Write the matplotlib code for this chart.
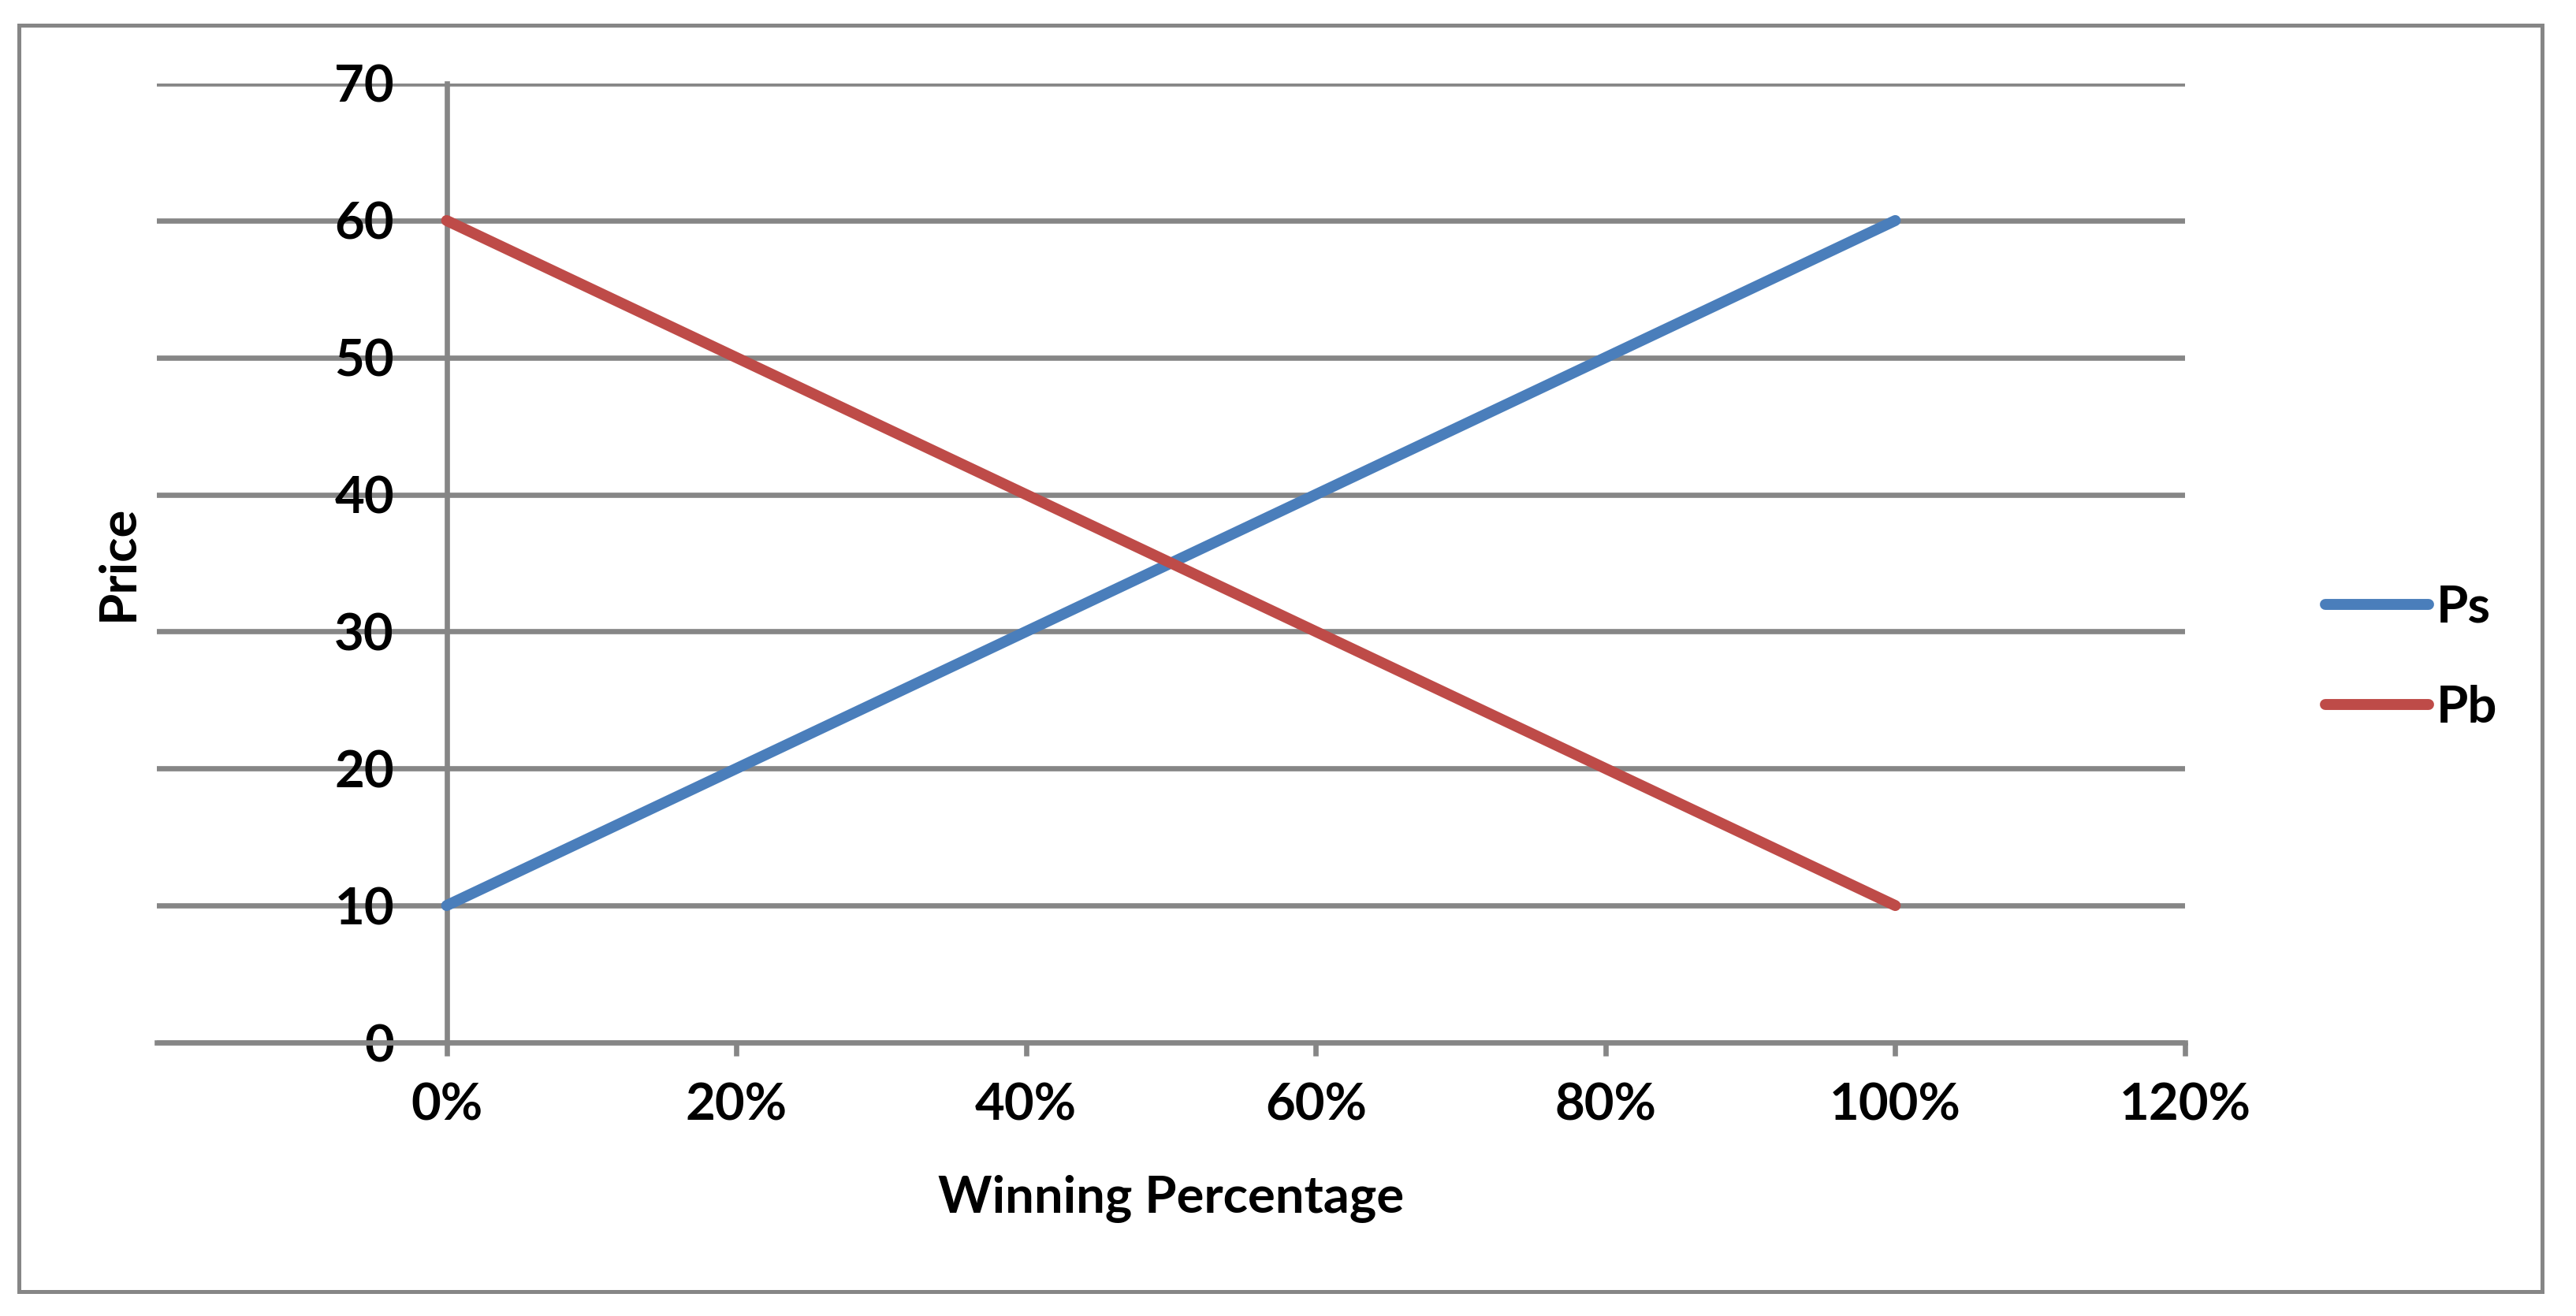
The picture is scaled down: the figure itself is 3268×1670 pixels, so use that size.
import matplotlib
matplotlib.use("Agg")
import matplotlib.pyplot as plt
from matplotlib.patches import Rectangle

# ---- data ----
win_pct = [0.0, 0.2, 0.4, 0.6, 0.8, 1.0]
ps = [10, 20, 30, 40, 50, 60]
pb = [60, 50, 40, 30, 20, 10]
series_names = ["Ps", "Pb"]
x_ticks = [0.0, 0.2, 0.4, 0.6, 0.8, 1.0, 1.2]
x_tick_labels = ["0%", "20%", "40%", "60%", "80%", "100%", "120%"]
y_ticks = [0, 10, 20, 30, 40, 50, 60, 70]
x_label = "Winning Percentage"
y_label = "Price"

# ---- style ----
W, H, DPI = 3268, 1670, 200
GRAY = "#868686"
BLUE = "#4A7EBB"
RED = "#BE4B48"
FONT = "Lato"
FS = 23.5

plt.rcParams["font.family"] = [FONT, "DejaVu Sans"]
plt.rcParams["font.weight"] = "bold"

fig = plt.figure(figsize=(W / DPI, H / DPI), dpi=DPI)
fig.patch.set_facecolor("white")

# outer chart border
fig.patches.append(Rectangle((24 / W, 1 - 1639 / H), (3225 - 24) / W, (1639 - 32) / H,
                             transform=fig.transFigure, fill=False,
                             edgecolor=GRAY, linewidth=1.8))

left, right = 199 / W, 2772 / W
top, bottom = 1 - 106 / H, 1 - 1323 / H
ax = fig.add_axes([left, bottom, right - left, top - bottom])

l1, = ax.plot(win_pct, ps, color=BLUE, lw=5, solid_capstyle="round", zorder=3, label=series_names[0])
l2, = ax.plot(win_pct, pb, color=RED, lw=5, solid_capstyle="round", zorder=3, label=series_names[1])

ax.set_xlim(-0.2, 1.2)
ax.set_ylim(0, 70)
ax.set_xticks(x_ticks)
ax.set_xticklabels(x_tick_labels)
ax.set_yticks(y_ticks)
ax.set_yticklabels([str(v) for v in y_ticks])

ax.grid(axis="y", color=GRAY, linewidth=2.4)
ax.set_axisbelow(True)

for s in ["top", "right"]:
    ax.spines[s].set_visible(False)
ax.spines["left"].set_position(("data", 0))
ax.spines["left"].set_color(GRAY)
ax.spines["left"].set_linewidth(2.4)
ax.spines["bottom"].set_color(GRAY)
ax.spines["bottom"].set_linewidth(2.4)

ax.tick_params(axis="x", direction="out", length=6, width=2.4, color=GRAY,
               labelsize=FS, pad=12, labelcolor="black")
ax.tick_params(axis="y", length=0, labelsize=FS, pad=24, labelcolor="black")
for t in ax.get_xticklabels() + ax.get_yticklabels():
    t.set_fontweight("bold")

ax.set_xlabel(x_label, fontsize=FS, fontweight="bold")
ax.xaxis.set_label_coords(0.5, (1323 - 1521) / 1217)
ax.xaxis.label.set_va("center")
ax.set_ylabel(y_label, fontsize=FS, fontweight="bold")
ax.yaxis.set_label_coords((150 - 199) / (2772 - 199), 0.5)
ax.yaxis.label.set_va("center")

leg = fig.legend(handles=[l1, l2], loc="center left", bbox_to_anchor=(2950 / W, 1 - 835 / H),
                 frameon=False, prop={"weight": "bold", "size": FS},
                 handlelength=2.0, handletextpad=0.15, labelspacing=1.05,
                 borderpad=0, borderaxespad=0)

fig.savefig("out.png", dpi=DPI, facecolor="white")
